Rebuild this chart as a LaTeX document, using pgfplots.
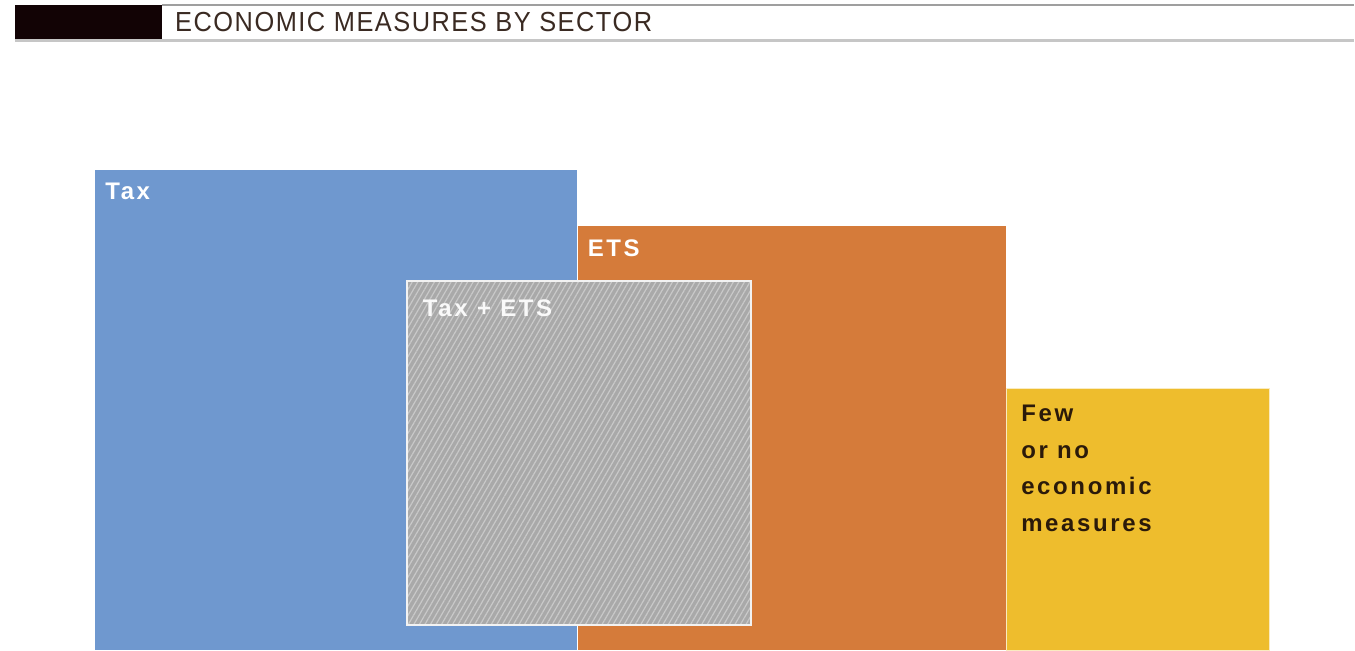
\documentclass[border=0pt]{standalone}
\usepackage{pgfplots}
\pgfplotsset{compat=1.18}
\usepackage{fontspec}
\setmainfont{Liberation Sans}
\newfontfamily\titlefont[LetterSpace=5.5,FakeStretch=0.92]{Liberation Sans}
\newfontfamily\labfont[LetterSpace=11]{Liberation Sans}
\usetikzlibrary{patterns.meta}
\definecolor{taxblue}{HTML}{6F98CF}
\definecolor{etsorange}{HTML}{D57B3A}
\definecolor{fewyellow}{HTML}{EEBD2D}
\definecolor{hatchgray}{HTML}{A9A9A9}
\definecolor{hatchlight}{HTML}{C9C9C9}
\definecolor{headblack}{HTML}{120305}
\definecolor{darkbrown}{HTML}{2B1A0A}
\definecolor{titlebrown}{HTML}{3A2A22}

\begin{document}
\begin{tikzpicture}
\begin{axis}[
  x=0.5pt, y=0.5pt,
  xmin=0, xmax=1355, ymin=0, ymax=651,
  y dir=reverse,
  scale only axis, hide axis, clip=false]
  % keep the full canvas in the bounding box
  \path (axis cs:0,0) rectangle (axis cs:1355,651);
  % sector areas (pixel corners)
  \addplot[draw=none, fill=taxblue] coordinates {(95,651)(95,170)(578,170)(578,651)} --cycle;
  \addplot[draw=none, fill=etsorange] coordinates {(579,651)(579,226)(1007,226)(1007,651)} --cycle;
  \addplot[draw=white!70!fewyellow, line width=0.5pt, fill=fewyellow] coordinates {(1008,651)(1008,389)(1271,389)(1271,651)} --cycle;
  \addplot[draw=none, fill=hatchgray] coordinates {(407,626)(407,281)(752,281)(752,626)} --cycle;
  \addplot[draw=white!90!gray, line width=1pt,
    pattern={Lines[angle=60, distance=2.4pt, line width=0.6pt]}, pattern color=hatchlight]
    coordinates {(407,626)(407,281)(752,281)(752,626)} --cycle;

  % header
  \fill[headblack] (axis cs:15,5) rectangle (axis cs:162,40);
  \draw[gray!75, line width=1pt] (axis cs:162,5) -- (axis cs:1355,5);
  \draw[gray!45, line width=1.5pt] (axis cs:15,40.5) -- (axis cs:1355,40.5);
  \node[anchor=base west, inner sep=0, font=\titlefont\fontsize{13.8}{15}\selectfont, text=titlebrown]
    at (axis cs:175,32) {ECONOMIC MEASURES BY SECTOR};

  % labels
  \node[anchor=base west, inner sep=0, font=\labfont\bfseries\fontsize{12}{14}\selectfont, text=white]
    at (axis cs:105,200) {Tax};
  \node[anchor=base west, inner sep=0, font=\labfont\bfseries\fontsize{12}{14}\selectfont, text=white]
    at (axis cs:588,257) {ETS};
  \node[anchor=base west, inner sep=0, font=\labfont\bfseries\fontsize{12}{14}\selectfont, text=white!95!gray]
    at (axis cs:423,317) {Tax + ETS};
  \node[anchor=base west, inner sep=0, align=left, text=darkbrown,
    font=\labfont\bfseries\fontsize{12}{18.3}\selectfont]
    at (axis cs:1022,532) {Few\\or no\\economic\\measures};
\end{axis}
\end{tikzpicture}
\end{document}
